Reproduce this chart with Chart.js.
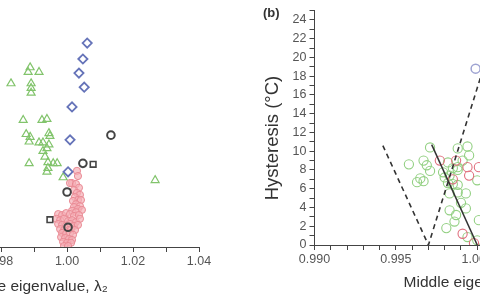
<!DOCTYPE html>
<html>
<head>
<meta charset="utf-8">
<script src="https://cdn.jsdelivr.net/npm/chart.js@4.4.1/dist/chart.umd.min.js"></script>
<style>
  html, body { margin:0; padding:0; background:#fff; width:480px; height:300px; overflow:hidden; position:relative; }
  canvas { position:absolute; top:0; }
  #cLeft { left:-145px; }
  #cRight { left:255px; }
  #tagB { position:absolute; left:263px; top:5px; font:bold 13px Arial, "Liberation Sans", sans-serif; color:#333; }
</style>
</head>
<body>
<canvas id="cLeft" width="360" height="300"></canvas>
<canvas id="cRight" width="405" height="300"></canvas>
<div id="tagB">(b)</div>
<script>
// ============ PANEL A DATA (x = middle eigenvalue, y = hysteresis) ============
const diamondsA = [[1.0061,21.7],[1.0048,20.0],[1.0036,18.5],[1.0052,17.0],[1.0015,14.9],[1.0009,11.4],[1.0003,8.0]];
const circlesA = [[1.0133,11.9],[1.0048,8.9],[1.0000,5.85],[1.0003,2.1]];
const squaresA = [[1.0079,8.8],[0.9948,2.9]];
const trianglesA = [
  [0.9830,17.4],[0.9888,19.1],[0.9882,18.6],[0.9915,18.6],[0.9891,17.4],[0.9891,16.9],[0.9891,16.4],
  [0.9867,13.5],[0.9924,13.5],[0.9939,13.6],[0.9876,12.0],[0.9888,11.7],[0.9945,12.1],[0.9948,11.8],
  [0.9885,11.2],[0.9915,11.1],[0.9927,11.1],[0.9945,10.9],[0.9939,10.5],[0.9927,10.2],[0.9933,9.6],
  [0.9942,9.0],[0.9958,8.9],[0.9970,8.9],[0.9885,8.9],[0.9942,8.4],[0.9939,8.0],[0.9988,7.4],[1.0267,7.1]
];
const dotsA = [
  [1.0030,8.1],[1.0033,7.55],[1.0015,6.8],[1.0009,6.8],[1.0027,6.7],[1.0036,6.3],[1.0021,6.05],[1.0030,5.75],
  [1.0039,5.55],[1.0024,5.3],[1.0033,5.0],[1.0042,5.0],[1.0018,4.9],[1.0027,4.55],[1.0039,4.35],[1.0021,4.25],
  [1.0033,4.05],[1.0045,3.95],[1.0015,3.85],[1.0027,3.7],[0.9973,3.5],[0.9985,3.4],[0.9997,3.6],[1.0009,3.5],
  [1.0021,3.3],[1.0036,3.4],[0.9967,3.0],[0.9979,2.85],[0.9991,3.0],[1.0003,2.75],[1.0015,2.85],[1.0027,2.65],
  [1.0039,3.0],[0.9973,2.45],[0.9985,2.35],[0.9997,2.25],[1.0009,2.45],[1.0021,2.25],[1.0033,2.35],[0.9979,1.9],
  [0.9991,1.8],[1.0012,1.9],[1.0024,1.8],[0.9985,1.5],[0.9997,1.4],[1.0009,1.5],[1.0018,1.3],[0.9982,1.05],
  [0.9994,0.95],[1.0006,0.85],[1.0015,0.75],[0.9988,0.55],[1.0000,0.45],[1.0012,0.45],[0.9991,0.1],[1.0003,0.1]
];

// ============ PANEL B DATA ============
const greenB = [
  [0.9971,10.4],[0.9958,8.6],[0.9967,9.0],[0.9969,8.5],[0.9971,7.9],[0.9988,10.3],[0.9994,10.5],[0.9995,9.55],
  [0.9991,9.0],[0.9988,8.0],[0.9979,7.75],[0.9983,7.4],[0.9965,7.1],[0.9963,6.7],[0.9967,6.8],[0.9980,7.2],
  [0.9988,8.3],[0.9988,6.4],[0.9993,5.5],[1.0000,6.9],[0.9983,5.5],[0.9990,4.5],[0.9983,3.7],[0.9987,3.2],
  [0.9986,2.5],[0.9993,3.9],[0.9981,1.8],[0.9994,0.85],[1.0001,2.65],[1.0000,0.5],[0.9982,8.8],[0.9985,8.2],
  [0.9982,6.6],[0.9985,6.5],[0.9988,5.6]
];
const redB = [[0.9977,9.0],[0.9987,9.0],[0.9994,8.3],[0.9995,7.4],[1.0001,8.3],[0.9985,7.0],[0.9991,1.2],[0.9998,0.2]];
const lilacB = [[0.9999,18.8]];
const dashedB = [[0.9942,10.6],[0.9970,0],[1.0013,24]];
const solidB = [[0.9972,10.7],[1.0000,0]];

const toXY = arr => arr.map(p => ({x:p[0], y:p[1]}));
const FONT = 'Arial, "Liberation Sans", "DejaVu Sans", sans-serif';
const AX = '#444';

function pts(data, style, color, radius, width, fill) {
  return {
    data: toXY(data), showLine:false, pointStyle:style, pointRadius:radius,
    pointBorderColor:color, pointBorderWidth:width, pointBackgroundColor:fill || 'rgba(0,0,0,0)'
  };
}

// ============ PANEL A ============
new Chart(document.getElementById('cLeft'), {
  type:'scatter',
  data:{ datasets:[
    pts(circlesA,'circle',AX,3.8,2),
    pts(squaresA,'rect',AX,4,1.6),
    pts(diamondsA,'rectRot','#6674b9',4.6,1.8),
    pts(trianglesA,'triangle','#82c46c',4.6,1.2),
    pts(dotsA,'circle','#e98a94',3.6,1,'rgba(245,175,182,0.7)'),
  ]},
  options:{
    responsive:false, animation:false, devicePixelRatio:1,
    layout:{padding:{left:14, right:16, top:12, bottom:3.7}},
    plugins:{legend:{display:false}, tooltip:{enabled:false}},
    scales:{
      x:{
        type:'linear', min:0.94, max:1.04,
        grid:{drawOnChartArea:false, tickLength:5, tickColor:AX},
        border:{display:true, color:AX, width:1},
        ticks:{stepSize:0.01, padding:2, color:'#555', font:{family:FONT, size:12.5}, maxRotation:0, autoSkip:false,
          callback:v => Math.round(v*100) % 2 === 0 ? v.toFixed(2) : ''},
        title:{display:true, text:'Middle eigenvalue, λ₂', color:'#333', font:{family:FONT, size:15.5}, padding:{top:6.7, bottom:0}}
      },
      y:{ type:'linear', min:0, max:25, display:false }
    }
  }
});

// ============ PANEL B ============
new Chart(document.getElementById('cRight'), {
  type:'scatter',
  data:{ datasets:[
    {data:toXY(solidB), showLine:true, pointRadius:0, borderColor:'#333', borderWidth:1.5},
    {data:toXY(dashedB), showLine:true, pointRadius:0, borderColor:'#333', borderWidth:1.6, borderDash:[5,4]},
    pts(lilacB,'circle','#9ea3d2',4.5,1.5),
    pts(redB,'circle','#e0707e',4.6,1.1),
    pts(greenB,'circle','#93d083',4.6,1.1),
  ]},
  options:{
    responsive:false, animation:false, devicePixelRatio:1,
    layout:{padding:{left:6.9, right:20, top:9.5, bottom:7.7}},
    plugins:{legend:{display:false}, tooltip:{enabled:false}},
    scales:{
      x:{
        type:'linear', min:0.990, max:1.010,
        grid:{drawOnChartArea:false, tickLength:5, tickColor:AX},
        border:{display:true, color:AX, width:1},
        ticks:{stepSize:0.001, padding:2, color:'#555', font:{family:FONT, size:12.5}, maxRotation:0, autoSkip:false,
          callback:v => Math.round(v*1000) % 5 === 0 ? v.toFixed(3) : ''},
        title:{display:true, text:'Middle eigenvalue, λ₂', color:'#333', font:{family:FONT, size:15.5}, padding:{top:4.7, bottom:0}}
      },
      y:{
        type:'linear', min:0, max:25,
        grid:{drawOnChartArea:false, tickLength:5, tickColor:AX},
        border:{display:true, color:AX, width:1},
        ticks:{stepSize:1, padding:3, color:'#555', font:{family:FONT, size:12.5}, autoSkip:false,
          callback:v => Math.round(v) % 2 === 0 ? String(v) : ''},
        title:{display:true, text:'Hysteresis (°C)    ', color:'#333', font:{family:FONT, size:18.5}, padding:{top:0, bottom:5.5}}
      }
    }
  }
});
</script>
</body>
</html>
